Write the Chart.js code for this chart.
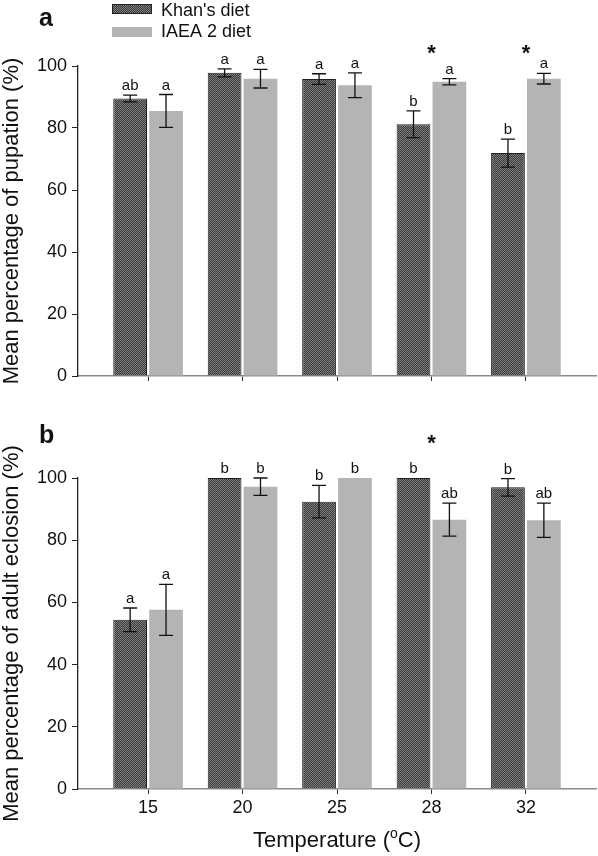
<!DOCTYPE html>
<html>
<head>
<meta charset="utf-8">
<script src="https://cdn.jsdelivr.net/npm/chart.js@4.4.1/dist/chart.umd.min.js"></script>
<style>
  html, body { margin: 0; padding: 0; background: #fff; }
  #wrap { position: relative; width: 598px; height: 856px; }
  .box { position: absolute; left: 0; width: 598px; }
</style>
</head>
<body>
<div id="wrap">
  <div class="box" style="top:0;height:420px"><canvas id="pupation"></canvas></div>
  <div class="box" style="top:420px;height:436px"><canvas id="eclosion"></canvas></div>
</div>
<script>
// temperatures (x categories)
const temps = ["15", "20", "25", "28", "32"];
const seriesNames = ["Khan's diet", "IAEA 2 diet"];

// panel a: pupation (%)
const khanPupation = [89.5, 97.8, 95.8, 81.2, 71.9];
const khanPupationErr = [1.1, 1.3, 1.7, 4.3, 4.5];
const iaeaPupation = [85.5, 95.9, 93.8, 94.9, 95.9];
const iaeaPupationErr = [5.3, 3.0, 4.0, 1.0, 1.7];
const khanPupationLetters = ["ab", "a", "a", "b", "b"];
const iaeaPupationLetters = ["a", "a", "a", "a", "a"];
const pupationStars = [false, false, false, true, true];

// panel b: adult eclosion (%)
const khanEclosion = [54.4, 100, 92.4, 100, 97.0];
const khanEclosionErr = [3.8, 0, 5.2, 0, 2.8];
const iaeaEclosion = [57.6, 97.2, 100, 86.6, 86.4];
const iaeaEclosionErr = [8.2, 2.8, 0, 5.3, 5.5];
const khanEclosionLetters = ["a", "b", "b", "b", "b"];
const iaeaEclosionLetters = ["a", "b", "b", "ab", "ab"];
const eclosionStars = [false, false, false, true, false];

const FONT = "'Liberation Sans', Arial, Helvetica, sans-serif";
const GREY = "#b4b4b4";

function khanPattern() {
  var c = document.createElement("canvas");
  c.width = 2; c.height = 2;
  var g = c.getContext("2d");
  g.fillStyle = "#3a3a3a"; g.fillRect(0, 0, 2, 2);
  g.fillStyle = "#7e7e7e"; g.fillRect(0, 0, 1, 1); g.fillRect(1, 1, 1, 1);
  return g.createPattern(c, "repeat");
}
const pattern = khanPattern();

// error bars, letters, stars and titles
const decor = {
  id: "decor",
  afterDatasetsDraw(chart, args, opts) {
    const ctx = chart.ctx;
    const y = chart.scales.y;
    ctx.save();
    chart.data.datasets.forEach(function (ds, d) {
      const meta = chart.getDatasetMeta(d);
      meta.data.forEach(function (bar, i) {
        const v = ds.data[i].y;
        const e = opts.errors[d][i];
        const top = y.getPixelForValue(v + e);
        if (e > 0) {
          const bot = y.getPixelForValue(v - e);
          ctx.strokeStyle = "#111";
          ctx.lineWidth = 1.3;
          ctx.beginPath();
          ctx.moveTo(bar.x, top); ctx.lineTo(bar.x, bot);
          ctx.moveTo(bar.x - 7, top); ctx.lineTo(bar.x + 7, top);
          ctx.moveTo(bar.x - 7, bot); ctx.lineTo(bar.x + 7, bot);
          ctx.stroke();
        }
        ctx.fillStyle = "#111";
        ctx.font = "15px " + FONT;
        ctx.textAlign = "center";
        ctx.textBaseline = "alphabetic";
        ctx.fillText(opts.letters[d][i], bar.x, top - 5);
      });
    });
    // significance stars
    ctx.font = "bold 22px " + FONT;
    ctx.textAlign = "center";
    opts.stars.forEach(function (s, i) {
      if (s) ctx.fillText("*", chart.scales.x.getPixelForValue(i), opts.starY);
    });
    ctx.restore();
  },
  afterDraw(chart, args, opts) {
    const ctx = chart.ctx;
    const area = chart.chartArea;
    ctx.save();
    ctx.fillStyle = "#111";
    // panel letter
    ctx.font = "bold 25px " + FONT;
    ctx.textAlign = "left";
    ctx.textBaseline = "alphabetic";
    ctx.fillText(opts.panel, 39, opts.panelY);
    // y title
    ctx.font = "22px " + FONT;
    ctx.translate(12, (area.top + area.bottom) / 2);
    ctx.rotate(-Math.PI / 2);
    ctx.textAlign = "center";
    ctx.textBaseline = "middle";
    ctx.fillText(opts.yTitle, 0, 0);
    ctx.restore();

    if (opts.legend) {
      ctx.save();
      ctx.fillStyle = pattern;
      ctx.fillRect(112, 4, 40, 10);
      ctx.strokeStyle = "#222";
      ctx.lineWidth = 1;
      ctx.strokeRect(112.5, 4.5, 39, 9);
      ctx.fillStyle = GREY;
      ctx.fillRect(112, 27, 40, 10);
      ctx.fillStyle = "#111";
      ctx.font = "18px " + FONT;
      ctx.textAlign = "left";
      ctx.textBaseline = "alphabetic";
      ctx.fillText(seriesNames[0], 161, 16);
      ctx.fillText(seriesNames[1], 161, 37);
      ctx.restore();
    }

    if (opts.xTitle) {
      ctx.save();
      ctx.fillStyle = "#111";
      ctx.textBaseline = "alphabetic";
      ctx.textAlign = "left";
      const cx = (area.left + area.right) / 2;
      const big = "22px " + FONT, small = "14px " + FONT;
      const p1 = "Temperature (", p2 = "o", p3 = "C)";
      ctx.font = big;
      const w1 = ctx.measureText(p1).width, w3 = ctx.measureText(p3).width;
      ctx.font = small;
      const w2 = ctx.measureText(p2).width;
      let x = cx - (w1 + w2 + w3) / 2;
      const base = 427;
      ctx.font = big; ctx.fillText(p1, x, base); x += w1;
      ctx.font = small; ctx.fillText(p2, x, base - 9); x += w2;
      ctx.font = big; ctx.fillText(p3, x, base);
      ctx.restore();
    }
  }
};

function makeChart(id, khan, iaea, cfg) {
  return new Chart(document.getElementById(id), {
    type: "bar",
    data: {
      datasets: [
        {
          label: seriesNames[0],
          data: khan.map(function (v, i) { return { x: i, y: v }; }),
          backgroundColor: pattern,
          borderColor: "#1e1e1e",
          borderWidth: { top: 1, left: 1, right: 1, bottom: 0 },
          borderSkipped: false,
          barPercentage: 0.94,
          categoryPercentage: 0.76
        },
        {
          label: seriesNames[1],
          data: iaea.map(function (v, i) { return { x: i, y: v }; }),
          backgroundColor: GREY,
          borderWidth: 0,
          barPercentage: 0.94,
          categoryPercentage: 0.76
        }
      ]
    },
    options: {
      responsive: true,
      maintainAspectRatio: false,
      animation: false,
      layout: { padding: { top: cfg.top, right: 2, left: 0, bottom: 0 } },
      plugins: {
        legend: { display: false },
        tooltip: { enabled: false },
        decor: cfg.decor
      },
      scales: {
        x: {
          type: "linear",
          offset: false,
          min: -0.742,
          max: 4.742,
          afterBuildTicks: function (s) { s.ticks = temps.map(function (t, i) { return { value: i }; }); },
          afterFit: function (s) { s.height = cfg.xHeight; },
          border: { color: "#8a8a8a", width: 1.5 },
          grid: { drawOnChartArea: false, offset: false, tickLength: 5, color: "#333", lineWidth: 1 },
          ticks: {
            display: cfg.xLabels,
            padding: 3,
            color: "#111",
            font: { family: FONT, size: 18 },
            callback: function (v) { return temps[v] !== undefined ? temps[v] : ""; }
          }
        },
        y: {
          min: 0,
          max: 100,
          afterFit: function (s) { s.width = 78; },
          border: { color: "#222", width: 1.3 },
          grid: { drawOnChartArea: false, tickLength: 6, color: "#222", lineWidth: 1 },
          ticks: {
            stepSize: 20,
            padding: 5,
            color: "#111",
            font: { family: FONT, size: 18 }
          }
        }
      }
    },
    plugins: [decor]
  });
}

makeChart("pupation", khanPupation, iaeaPupation, {
  top: 66,
  xHeight: 44,
  xLabels: false,
  decor: {
    errors: [khanPupationErr, iaeaPupationErr],
    letters: [khanPupationLetters, iaeaPupationLetters],
    stars: pupationStars,
    starY: 60,
    panel: "a",
    panelY: 26,
    yTitle: "Mean percentage of pupation (%)",
    legend: true,
    xTitle: false
  }
});

makeChart("eclosion", khanEclosion, iaeaEclosion, {
  top: 58,
  xHeight: 67,
  xLabels: true,
  decor: {
    errors: [khanEclosionErr, iaeaEclosionErr],
    letters: [khanEclosionLetters, iaeaEclosionLetters],
    stars: eclosionStars,
    starY: 30,
    panel: "b",
    panelY: 23,
    yTitle: "Mean percentage of adult eclosion (%)",
    legend: false,
    xTitle: true
  }
});
</script>
</body>
</html>
